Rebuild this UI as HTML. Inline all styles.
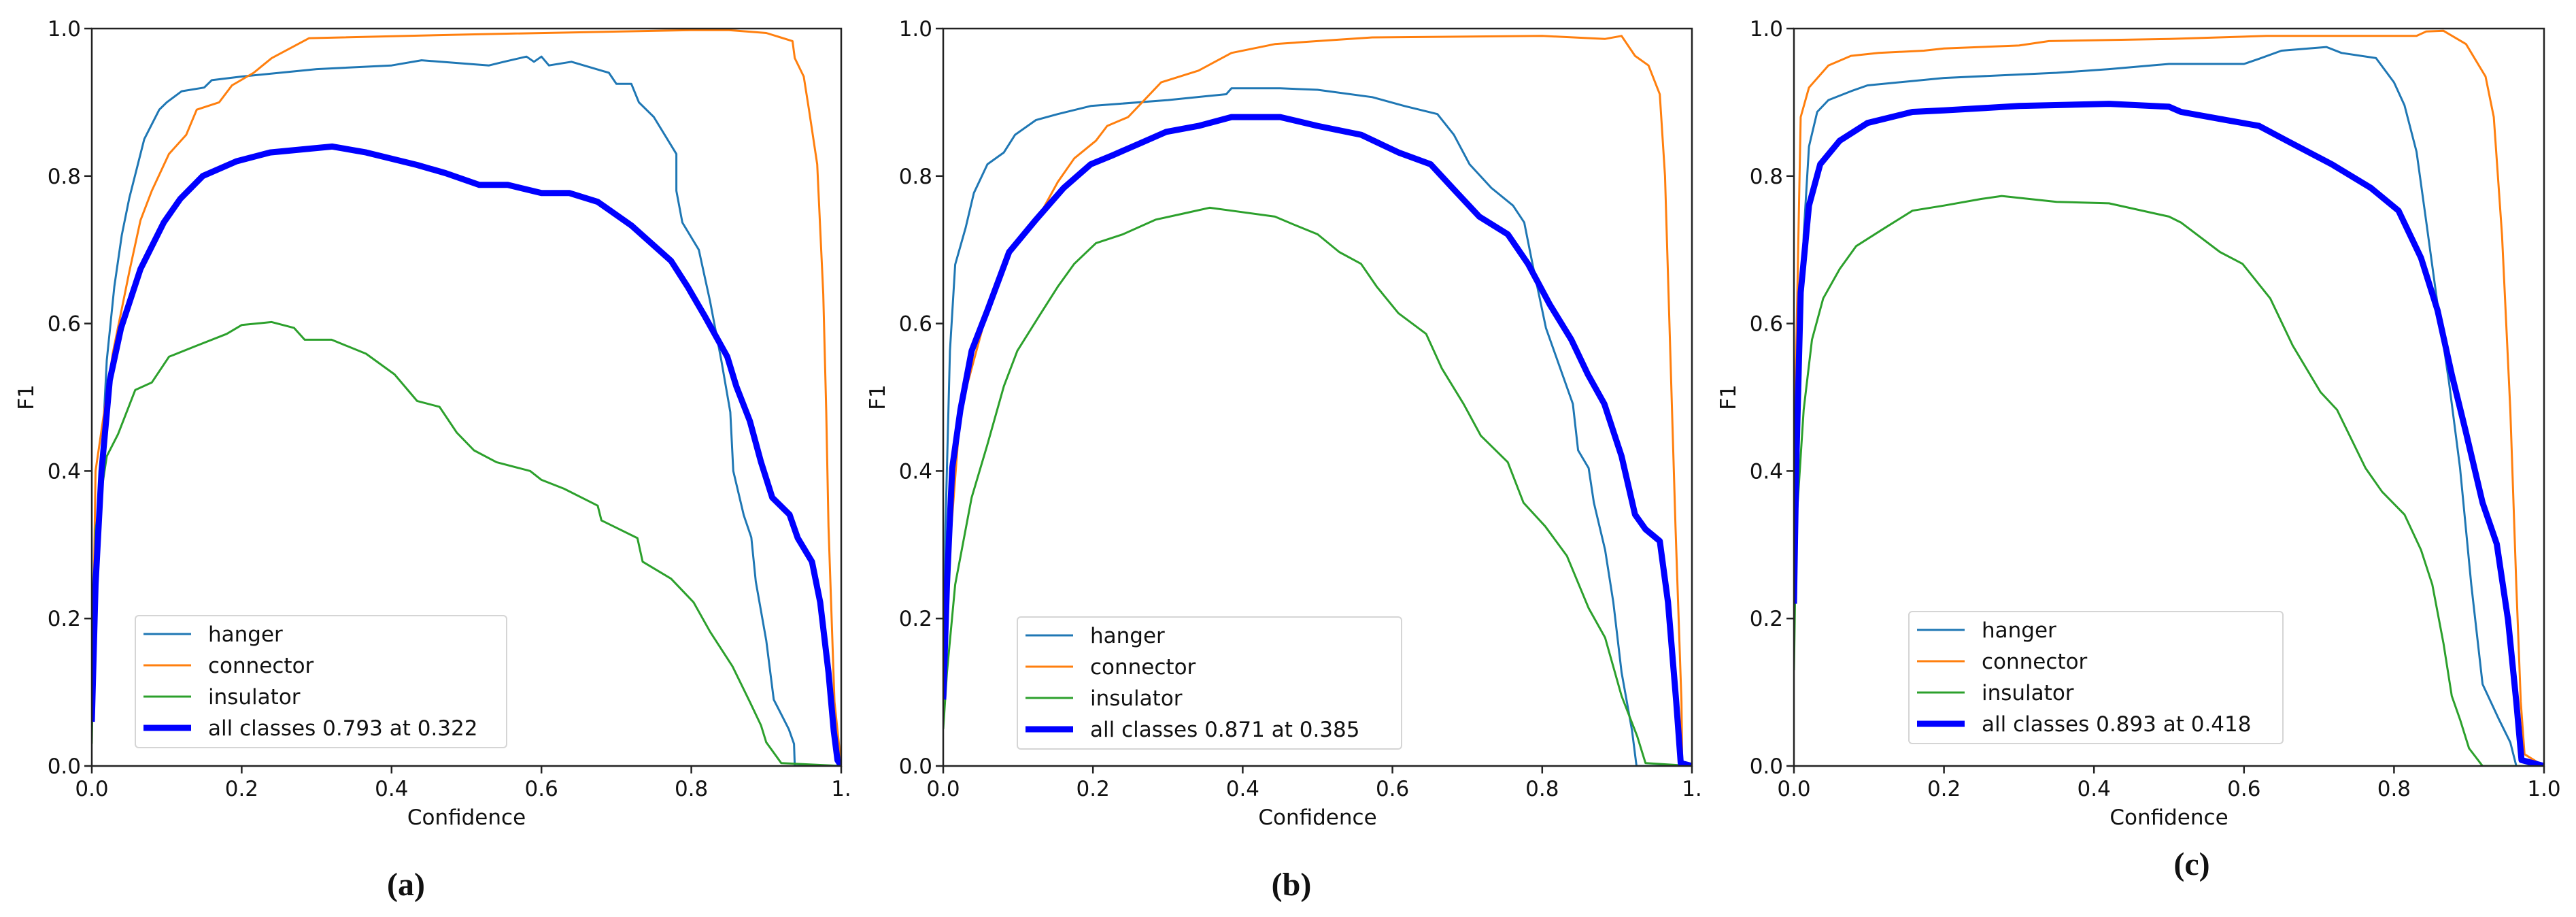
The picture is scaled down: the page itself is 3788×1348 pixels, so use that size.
<!DOCTYPE html>
<html><head><meta charset="utf-8"><style>
html,body{margin:0;padding:0;background:#fff;}
svg{display:block;}
text{font-family:"DejaVu Sans","Liberation Sans",sans-serif;fill:#111;}
.cap{font-family:"Liberation Serif",serif;font-weight:bold;font-size:48px;}
</style></head><body>
<svg id="fig" width="3788" height="1348" viewBox="0 0 3788 1348" xmlns="http://www.w3.org/2000/svg"></svg>
<script>
const xTicks=[0,0.2,0.4,0.6,0.8,1.0];
const yTicks=[0,0.2,0.4,0.6,0.8,1.0];
const seriesNames=["hanger","connector","insulator"];
const panelCaps=["(a)","(b)","(c)"];
const allLabels=["all classes 0.793 at 0.322","all classes 0.871 at 0.385","all classes 0.893 at 0.418"];
// panel a
const aHanger=[[0,0.05],[0.01,0.35],[0.02,0.55],[0.03,0.65],[0.04,0.72],[0.05,0.77],[0.06,0.81],[0.07,0.85],[0.09,0.89],[0.1,0.9],[0.12,0.915],[0.15,0.92],[0.16,0.93],[0.2,0.935],[0.3,0.945],[0.4,0.95],[0.44,0.957],[0.53,0.95],[0.55,0.955],[0.58,0.962],[0.59,0.955],[0.6,0.962],[0.61,0.95],[0.64,0.955],[0.69,0.94],[0.7,0.925],[0.72,0.925],[0.73,0.9],[0.75,0.88],[0.78,0.83],[0.78,0.78],[0.788,0.737],[0.81,0.70],[0.825,0.63],[0.84,0.55],[0.852,0.48],[0.856,0.40],[0.87,0.34],[0.88,0.31],[0.886,0.25],[0.9,0.17],[0.91,0.09],[0.93,0.05],[0.937,0.03],[0.938,0],[1,0]];
const aConnector=[[0,0.05],[0.005,0.4],[0.028,0.56],[0.05,0.67],[0.065,0.74],[0.08,0.78],[0.103,0.83],[0.126,0.856],[0.14,0.89],[0.17,0.9],[0.187,0.923],[0.216,0.94],[0.24,0.96],[0.29,0.987],[0.5,0.992],[0.8,0.998],[0.85,0.998],[0.9,0.994],[0.935,0.983],[0.938,0.96],[0.95,0.935],[0.957,0.89],[0.968,0.816],[0.976,0.64],[0.98,0.48],[0.983,0.325],[0.991,0.087],[1,0]];
const aInsulator=[[0,0.03],[0.005,0.32],[0.02,0.42],[0.035,0.45],[0.058,0.51],[0.08,0.52],[0.103,0.555],[0.14,0.57],[0.18,0.586],[0.2,0.598],[0.24,0.602],[0.27,0.594],[0.284,0.578],[0.32,0.578],[0.366,0.559],[0.404,0.531],[0.434,0.495],[0.464,0.487],[0.487,0.452],[0.51,0.428],[0.54,0.412],[0.585,0.4],[0.6,0.388],[0.63,0.376],[0.675,0.353],[0.68,0.333],[0.728,0.309],[0.735,0.277],[0.773,0.254],[0.803,0.222],[0.825,0.182],[0.855,0.135],[0.878,0.087],[0.893,0.055],[0.9,0.032],[0.92,0.004],[1,0]];
const aAll=[[0,0.06],[0.005,0.246],[0.013,0.4],[0.024,0.523],[0.039,0.594],[0.065,0.674],[0.096,0.737],[0.118,0.769],[0.148,0.8],[0.193,0.82],[0.238,0.832],[0.321,0.84],[0.366,0.832],[0.434,0.815],[0.472,0.804],[0.517,0.788],[0.555,0.788],[0.6,0.777],[0.637,0.777],[0.675,0.765],[0.72,0.733],[0.773,0.685],[0.795,0.65],[0.818,0.61],[0.848,0.555],[0.86,0.515],[0.878,0.468],[0.893,0.412],[0.908,0.364],[0.931,0.341],[0.942,0.309],[0.961,0.277],[0.972,0.222],[0.983,0.127],[0.99,0.048],[0.995,0.008],[1,0]];
// panel b
const bHanger=[[0,0.1],[0.003,0.325],[0.009,0.563],[0.016,0.68],[0.03,0.73],[0.041,0.777],[0.059,0.816],[0.081,0.832],[0.096,0.856],[0.124,0.876],[0.153,0.884],[0.197,0.895],[0.3,0.903],[0.378,0.911],[0.385,0.919],[0.45,0.919],[0.5,0.917],[0.573,0.907],[0.616,0.895],[0.66,0.884],[0.682,0.856],[0.703,0.816],[0.732,0.784],[0.761,0.76],[0.776,0.737],[0.787,0.681],[0.805,0.594],[0.827,0.531],[0.841,0.491],[0.848,0.428],[0.862,0.404],[0.869,0.357],[0.884,0.293],[0.895,0.222],[0.906,0.127],[0.92,0.048],[0.926,0],[1,0]];
const bConnector=[[0,0.1],[0.005,0.246],[0.023,0.483],[0.059,0.618],[0.088,0.697],[0.132,0.753],[0.153,0.792],[0.175,0.824],[0.204,0.848],[0.219,0.868],[0.247,0.88],[0.291,0.927],[0.341,0.943],[0.385,0.967],[0.443,0.979],[0.5,0.983],[0.573,0.988],[0.8,0.99],[0.884,0.986],[0.906,0.99],[0.924,0.963],[0.942,0.95],[0.957,0.911],[0.964,0.8],[0.971,0.563],[0.978,0.325],[0.986,0.087],[0.987,0.004],[1,0]];
const bInsulator=[[0,0.05],[0.005,0.127],[0.016,0.246],[0.038,0.364],[0.059,0.436],[0.081,0.515],[0.099,0.563],[0.128,0.61],[0.153,0.65],[0.175,0.681],[0.204,0.709],[0.24,0.721],[0.284,0.741],[0.32,0.749],[0.356,0.757],[0.385,0.753],[0.443,0.745],[0.471,0.733],[0.5,0.721],[0.529,0.697],[0.558,0.681],[0.579,0.65],[0.608,0.614],[0.645,0.586],[0.666,0.539],[0.695,0.491],[0.718,0.448],[0.754,0.412],[0.775,0.357],[0.804,0.325],[0.833,0.285],[0.862,0.214],[0.884,0.174],[0.906,0.095],[0.927,0.04],[0.938,0.004],[1,0]];
const bAll=[[0,0.09],[0.005,0.246],[0.012,0.404],[0.023,0.483],[0.038,0.563],[0.059,0.618],[0.088,0.697],[0.124,0.741],[0.161,0.784],[0.197,0.816],[0.226,0.828],[0.262,0.844],[0.298,0.86],[0.341,0.868],[0.385,0.88],[0.45,0.88],[0.5,0.868],[0.558,0.856],[0.608,0.832],[0.651,0.816],[0.68,0.784],[0.716,0.745],[0.754,0.721],[0.781,0.681],[0.81,0.626],[0.839,0.578],[0.861,0.531],[0.883,0.491],[0.906,0.42],[0.924,0.341],[0.938,0.321],[0.957,0.305],[0.968,0.222],[0.979,0.087],[0.985,0.004],[1,0]];
// panel c
const cHanger=[[0,0.2],[0.005,0.48],[0.013,0.72],[0.02,0.84],[0.031,0.887],[0.046,0.903],[0.076,0.915],[0.098,0.923],[0.2,0.933],[0.35,0.94],[0.42,0.945],[0.5,0.952],[0.6,0.952],[0.62,0.959],[0.65,0.97],[0.71,0.975],[0.73,0.967],[0.776,0.96],[0.8,0.927],[0.814,0.896],[0.83,0.833],[0.843,0.738],[0.858,0.626],[0.873,0.523],[0.888,0.404],[0.903,0.246],[0.918,0.111],[0.94,0.063],[0.955,0.032],[0.963,0],[1,0]];
const cConnector=[[0,0.45],[0.003,0.56],[0.009,0.88],[0.02,0.92],[0.046,0.95],[0.076,0.963],[0.113,0.967],[0.173,0.97],[0.2,0.973],[0.3,0.977],[0.34,0.983],[0.5,0.986],[0.63,0.99],[0.83,0.99],[0.843,0.996],[0.866,0.997],[0.896,0.979],[0.922,0.935],[0.933,0.88],[0.944,0.72],[0.955,0.483],[0.963,0.246],[0.969,0.087],[0.974,0.016],[0.993,0.004],[1,0]];
const cInsulator=[[0,0.13],[0.003,0.325],[0.013,0.483],[0.024,0.578],[0.039,0.634],[0.061,0.674],[0.083,0.705],[0.12,0.729],[0.158,0.753],[0.2,0.76],[0.25,0.769],[0.277,0.773],[0.35,0.765],[0.42,0.763],[0.5,0.745],[0.516,0.737],[0.568,0.697],[0.598,0.681],[0.635,0.634],[0.665,0.57],[0.702,0.507],[0.724,0.483],[0.762,0.404],[0.784,0.372],[0.814,0.341],[0.836,0.293],[0.851,0.246],[0.866,0.166],[0.877,0.095],[0.888,0.063],[0.9,0.024],[0.918,0],[1,0]];
const cAll=[[0,0.22],[0.003,0.404],[0.009,0.642],[0.02,0.76],[0.035,0.816],[0.061,0.848],[0.098,0.872],[0.158,0.887],[0.2,0.889],[0.3,0.895],[0.42,0.898],[0.5,0.894],[0.516,0.887],[0.576,0.876],[0.62,0.868],[0.657,0.848],[0.717,0.816],[0.769,0.784],[0.806,0.753],[0.836,0.689],[0.858,0.618],[0.877,0.531],[0.896,0.452],[0.918,0.357],[0.937,0.301],[0.952,0.198],[0.963,0.087],[0.97,0.008],[1,0]];

const NS="http://www.w3.org/2000/svg";
const svg=document.getElementById('fig');
function el(tag,attrs,parent){const e=document.createElementNS(NS,tag);for(const k in attrs)e.setAttribute(k,attrs[k]);(parent||svg).appendChild(e);return e;}
const colors=["#1f77b4","#ff7f0e","#2ca02c"];
const panels=[
 {L:135,R:1237,T:42,B:1126,data:[aHanger,aConnector,aInsulator,aAll],leg:[199,905,546,194],cap:[597,1300],last:"1."},
 {L:1387,R:2488,T:42,B:1126,data:[bHanger,bConnector,bInsulator,bAll],leg:[1496,907,565,194],cap:[1899,1300],last:"1."},
 {L:2638,R:3741,T:42,B:1126,data:[cHanger,cConnector,cInsulator,cAll],leg:[2807,899,550,194],cap:[3223,1270],last:"1.0"}
];
panels.forEach((p,pi)=>{
 const g=el('g',{});
 
 
 const sx=v=>p.L+v*(p.R-p.L), sy=v=>p.B-v*(p.B-p.T);
 const clip=el('clipPath',{id:'clip'+pi},g);
 el('rect',{x:p.L,y:p.T-6,width:p.R-p.L,height:p.B-p.T+6},clip);
 // series
 p.data.forEach((d,si)=>{
  const pts=d.map(q=>sx(q[0]).toFixed(1)+','+sy(q[1]).toFixed(1)).join(' ');
  const pl=el('polyline',{points:pts,fill:'none',stroke:si<3?colors[si]:'#0000ff','stroke-width':si<3?3:9,'stroke-linejoin':'round','clip-path':'url(#clip'+pi+')'},g);
  
  
 });
 // frame
 const fr=el('rect',{x:p.L,y:p.T,width:p.R-p.L,height:p.B-p.T,fill:'none',stroke:'#222','stroke-width':2.5},g);
 
 
 // ticks
 xTicks.forEach((t,i)=>{
  el('line',{x1:sx(t),x2:sx(t),y1:p.B,y2:p.B+11,stroke:'#222','stroke-width':2.5},g);
  const tx=el('text',{x:sx(t),y:p.B+44,'text-anchor':'middle','font-size':31},g);
  tx.textContent=i===5?p.last:t.toFixed(1);
  
  
 });
 yTicks.forEach(t=>{
  el('line',{x1:p.L-11,x2:p.L,y1:sy(t),y2:sy(t),stroke:'#222','stroke-width':2.5},g);
  const ty=el('text',{x:p.L-16,y:sy(t)+11,'text-anchor':'end','font-size':31},g);
  ty.textContent=t.toFixed(1);
  
  
 });
 const xl=el('text',{x:(p.L+p.R)/2,y:p.B+86,'text-anchor':'middle','font-size':31},g);
 xl.textContent='Confidence';
 
 
 const yx=p.L-86, yy=(p.T+p.B)/2;
 const yl=el('text',{x:yx,y:yy,'text-anchor':'middle','font-size':31,transform:'rotate(-90 '+yx+' '+yy+')'},g);
 yl.textContent='F1';
 
 
 // legend
 const [lx,ly,lw,lh]=p.leg;
 const lg=el('g',{},g);
 
 
 el('rect',{x:lx,y:ly,width:lw,height:lh,rx:5,fill:'#fff','fill-opacity':0.85,stroke:'#d5d5d5','stroke-width':2},lg);
 const labels=seriesNames.concat([allLabels[pi]]);
 labels.forEach((lab,i)=>{
  const cy=ly+27+i*46;
  el('line',{x1:lx+12,x2:lx+82,y1:cy,y2:cy,stroke:i<3?colors[i]:'#0000ff','stroke-width':i<3?3:9},lg);
  const t=el('text',{x:lx+107,y:cy+11,'font-size':31},lg);
  t.textContent=lab;
  
  
 });
 const c=el('text',{x:p.cap[0],y:p.cap[1]+16,'text-anchor':'middle',class:'cap'},g);
 c.textContent=panelCaps[pi];
 
 
});
</script>
</body></html>
